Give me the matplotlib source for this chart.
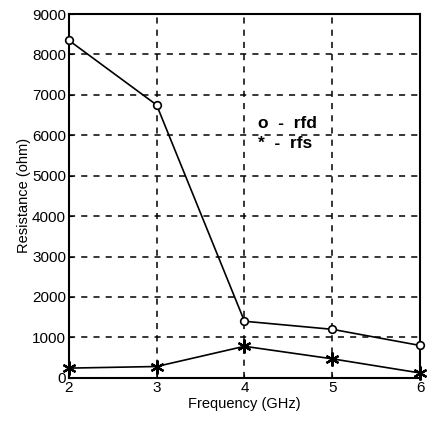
import matplotlib
matplotlib.use("Agg")
import matplotlib.pyplot as plt

# Datos
freq = [2, 3, 4, 5, 6]
rfd = [8350, 6750, 1400, 1200, 800]
rfs = [240, 280, 780, 470, 120]

plt.rcParams['font.family'] = ['Liberation Sans', 'DejaVu Sans']

fig = plt.figure(figsize=(4.3, 4.25), dpi=100)
ax = fig.add_axes([0.16, 0.111, 0.817, 0.856])

ax.plot(freq, rfd, color='black', lw=1.2, marker='o', markersize=5.5,
        markerfacecolor='white', markeredgecolor='black', markeredgewidth=1.2,
        clip_on=False, zorder=3)
ax.plot(freq, rfs, color='black', lw=1.2, marker=(6, 2, 0), markersize=10,
        markeredgewidth=1.6, markeredgecolor='black', clip_on=False, zorder=3)

ax.set_xlim(2, 6)
ax.set_ylim(0, 9000)
ax.set_xticks(freq)
ax.set_yticks(range(0, 9001, 1000))
ax.grid(True, color='black', linestyle=(0, (4, 4)), lw=1.1)
ax.tick_params(direction='in', length=3, labelsize=11, color='black', pad=2)
for s in ax.spines.values():
    s.set_linewidth(1.5)

ax.text(4.15, 6300, 'o  -  rfd', fontsize=12.5, fontweight='bold', va='center')
ax.text(4.15, 5800, '*  -  rfs', fontsize=12.5, fontweight='bold', va='center')

ax.set_xlabel('Frequency (GHz)', fontsize=10.5, labelpad=2)
ax.set_ylabel('Resistance (ohm)', fontsize=10.5, labelpad=1)

fig.savefig('out.png', dpi=100)
